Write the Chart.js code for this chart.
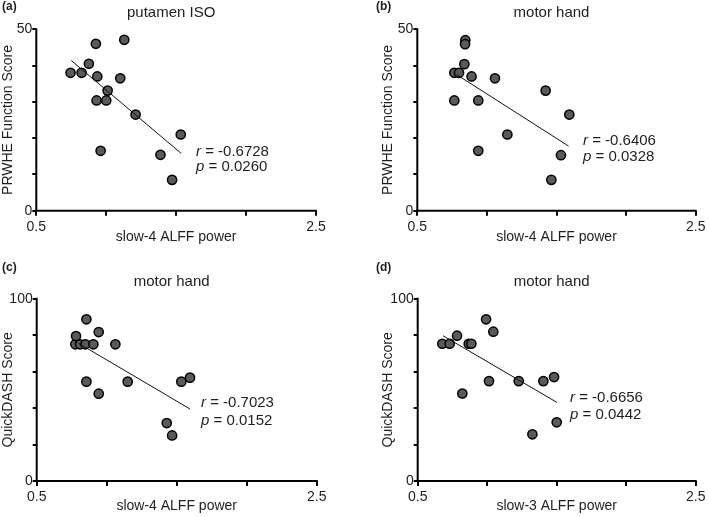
<!DOCTYPE html>
<html>
<head>
<meta charset="utf-8">
<script src="https://cdn.jsdelivr.net/npm/chart.js@4.4.1/dist/chart.umd.min.js"></script>
<style>
  html, body { margin: 0; padding: 0; background: #fff; }
  #wrap { position: relative; width: 709px; height: 517px; }
  canvas { position: absolute; }
</style>
</head>
<body>
<div id="wrap">
  <canvas id="ca" width="354" height="255" style="left:0;top:0"></canvas>
  <canvas id="cb" width="354" height="255" style="left:355px;top:0"></canvas>
  <canvas id="cc" width="354" height="262" style="left:0;top:255px"></canvas>
  <canvas id="cd" width="354" height="262" style="left:355px;top:255px"></canvas>
</div>
<script>
// (a) putamen ISO, slow-4 vs PRWHE
const aX = [0.745, 0.824, 0.876, 0.926, 0.936, 0.931, 1.0, 1.01, 0.96, 1.1, 1.129, 1.21, 1.388, 1.471, 1.533];
const aY = [38, 38, 40.5, 46, 37, 30.4, 30.4, 33.1, 16.5, 36.5, 47.1, 26.5, 15.4, 8.5, 21.0];
const aFitX = [0.75, 1.536];
const aFitY = [41.4, 15.8];

// (b) motor hand, slow-4 vs PRWHE
const bX = [0.766, 0.80, 0.766, 0.845, 0.843, 0.838, 0.89, 0.938, 0.938, 1.058, 1.147, 1.422, 1.592, 1.532, 1.463];
const bY = [38, 38, 30.4, 47, 45.9, 40.4, 37, 30.4, 16.5, 36.5, 21, 33.1, 26.5, 15.3, 8.5];
const bFitX = [0.783, 1.587];
const bFitY = [37.5, 17.8];

// (c) motor hand, slow-4 vs QuickDASH
const cX = [0.776, 0.81, 0.848, 0.905, 0.781, 0.855, 0.943, 1.062, 0.855, 0.943, 1.15, 1.533, 1.595, 1.429, 1.467];
const cY = [75, 75, 75, 75, 79.5, 88.7, 81.7, 75, 54.5, 47.9, 54.5, 54.5, 56.7, 31.8, 25];
const cFitX = [0.8, 1.595];
const cFitY = [75.5, 39.5];

// (d) motor hand, slow-3 vs QuickDASH
const dX = [0.677, 0.73, 0.783, 0.867, 0.886, 0.821, 0.992, 1.044, 1.013, 1.227, 1.404, 1.481, 1.5, 1.325];
const dY = [75.3, 75.3, 79.7, 75.3, 75.3, 48, 88.7, 81.9, 54.8, 54.8, 54.8, 57, 32.2, 25.6];
const dFitX = [0.682, 1.502];
const dFitY = [79.7, 43.1];

const xRange = [0.5, 2.5];
const xTicksShown = [0.5, 2.5];

const FONT = 'Liberation Sans, Arial, sans-serif';
const INK = '#1e1e1e';

function pairs(xs, ys) {
    return xs.map((x, i) => ({ x: x, y: ys[i] }));
}

// panel letter, title and r / p annotation
const textPlugin = {
    id: 'panelText',
    afterDraw(chart, args, opts) {
        const ctx = chart.ctx;
        const area = chart.chartArea;
        ctx.save();
        ctx.fillStyle = INK;
        ctx.textBaseline = 'middle';

        ctx.font = 'bold 12px ' + FONT;
        ctx.textAlign = 'left';
        ctx.fillText(opts.letter, opts.letterX, opts.letterY);

        ctx.font = '15px ' + FONT;
        ctx.textAlign = 'center';
        ctx.fillText(opts.title, (area.left + area.right) / 2 - 5, opts.titleY);

        ctx.textAlign = 'left';
        const lines = [['r', opts.r, opts.rY], ['p', opts.p, opts.pY]];
        lines.forEach(([sym, val, y]) => {
            ctx.font = 'italic 15px ' + FONT;
            ctx.fillText(sym, opts.statX, y);
            const w = ctx.measureText(sym).width;
            ctx.font = '15px ' + FONT;
            ctx.fillText(' = ' + val, opts.statX + w, y);
        });
        ctx.restore();
    }
};

function axisLine(points) {
    return {
        data: points,
        showLine: true,
        borderColor: '#000',
        borderWidth: 2,
        borderCapStyle: 'square',
        pointRadius: 0,
        clip: false,
        order: -1
    };
}

function makePanel(id, p) {
    const tickFont = { family: FONT, size: 14 };
    new Chart(document.getElementById(id), {
        type: 'scatter',
        data: {
            datasets: [
                axisLine([{ x: xRange[0], y: 0 }, { x: xRange[1], y: 0 }]),
                axisLine([{ x: xRange[0], y: 0 }, { x: xRange[0], y: p.yMax }]),
                {
                    data: pairs(p.fitX, p.fitY),
                    showLine: true,
                    borderColor: '#111',
                    borderWidth: 1,
                    pointRadius: 0,
                    order: 0
                }, {
                    data: pairs(p.xs, p.ys),
                    backgroundColor: '#5a5a5a',
                    borderColor: '#000',
                    borderWidth: 1.5,
                    pointRadius: 4.6,
                    clip: false,
                    order: 1
                }
            ]
        },
        options: {
            responsive: false,
            animation: false,
            layout: { padding: { left: p.padL, right: p.padR, top: p.top, bottom: 0 } },
            plugins: {
                legend: { display: false },
                tooltip: { enabled: false },
                panelText: p.text
            },
            scales: {
                x: {
                    type: 'linear',
                    min: xRange[0],
                    max: xRange[1],
                    ticks: {
                        stepSize: 0.5,
                        autoSkip: false,
                        maxRotation: 0,
                        padding: 3,
                        color: INK,
                        font: tickFont,
                        callback: (v) => xTicksShown.some(t => Math.abs(t - v) < 1e-6) ? v.toFixed(1) : ''
                    },
                    grid: { drawOnChartArea: false, tickLength: 5, color: '#000', lineWidth: 2 },
                    border: { display: false },
                    title: {
                        display: true, text: p.xTitle, color: INK,
                        font: { family: FONT, size: 14 },
                        padding: { top: 0, bottom: p.xTitlePad }
                    },
                    afterFit: (s) => { s.height = p.xH; }
                },
                y: {
                    type: 'linear',
                    min: 0,
                    max: p.yMax,
                    ticks: {
                        stepSize: p.yMax / 5,
                        autoSkip: false,
                        padding: 0,
                        color: INK,
                        font: tickFont,
                        callback: (v) => (v === 0 || v === p.yMax) ? String(v) : ''
                    },
                    grid: { drawOnChartArea: false, tickLength: 4, color: '#000', lineWidth: 2 },
                    border: { display: false },
                    title: {
                        display: true, text: p.yTitle, color: INK,
                        font: { family: FONT, size: 14 },
                        padding: { top: 0, bottom: 0 }
                    },
                    afterFit: (s) => { s.width = p.yW; }
                }
            }
        },
        plugins: [textPlugin]
    });
}

makePanel('ca', {
    xs: aX, ys: aY, fitX: aFitX, fitY: aFitY, yMax: 50,
    xTitle: 'slow-4 ALFF power', yTitle: 'PRWHE Function Score',
    padL: 0, padR: 38, top: 29.3, yW: 36.3, xH: 44.3, xTitlePad: 9,
    text: { letter: '(a)', letterX: 2, letterY: 7, title: 'putamen ISO', titleY: 13,
            r: '-0.6728', p: '0.0260', statX: 196, rY: 152, pY: 167 }
});

makePanel('cb', {
    xs: bX, ys: bY, fitX: bFitX, fitY: bFitY, yMax: 50,
    xTitle: 'slow-4 ALFF power', yTitle: 'PRWHE Function Score',
    padL: 24.6, padR: 13.3, top: 29.3, yW: 37.7, xH: 44.3, xTitlePad: 9,
    text: { letter: '(b)', letterX: 21, letterY: 7, title: 'motor hand', titleY: 13,
            r: '-0.6406', p: '0.0328', statX: 228, rY: 141, pY: 157 }
});

makePanel('cc', {
    xs: cX, ys: cY, fitX: cFitX, fitY: cFitY, yMax: 100,
    xTitle: 'slow-4 ALFF power', yTitle: 'QuickDASH Score',
    padL: 0, padR: 37.3, top: 43.7, yW: 36.7, xH: 36, xTitlePad: 2,
    text: { letter: '(c)', letterX: 2, letterY: 13, title: 'motor hand', titleY: 27,
            r: '-0.7023', p: '0.0152', statX: 201, rY: 148, pY: 166 }
});

makePanel('cd', {
    xs: dX, ys: dY, fitX: dFitX, fitY: dFitY, yMax: 100,
    xTitle: 'slow-3 ALFF power', yTitle: 'QuickDASH Score',
    padL: 24.6, padR: 13.3, top: 43.7, yW: 38.1, xH: 36, xTitlePad: 2,
    text: { letter: '(d)', letterX: 21, letterY: 13, title: 'motor hand', titleY: 27,
            r: '-0.6656', p: '0.0442', statX: 215, rY: 143, pY: 160 }
});
</script>
</body>
</html>
